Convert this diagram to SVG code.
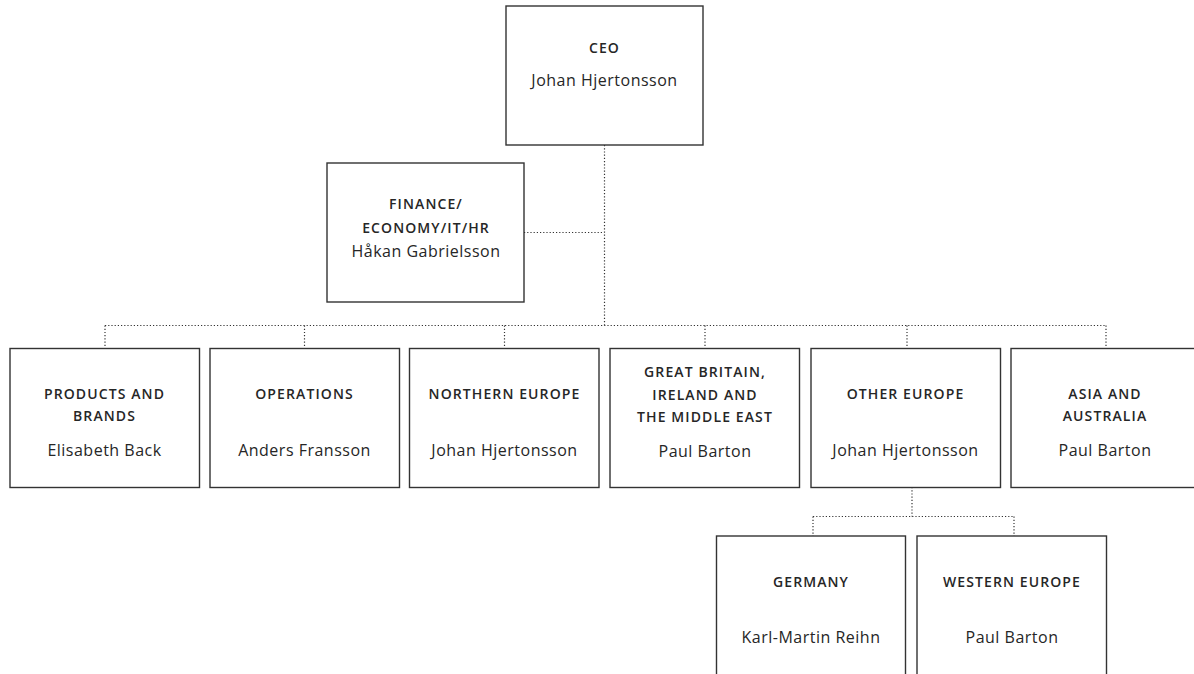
<svg xmlns="http://www.w3.org/2000/svg" width="1194" height="674" viewBox="0 0 1194 674">
<style>
.box{fill:#fff;stroke:#333;stroke-width:1.4}
.h{font-family:"Open Sans","Noto Sans",sans-serif;font-weight:600;font-size:14px;letter-spacing:1.1px;fill:#262626;text-anchor:middle}
.n{font-family:"Open Sans","Noto Sans",sans-serif;font-size:16px;letter-spacing:0.5px;fill:#262626;text-anchor:middle}
.c{fill:none;stroke:#333;stroke-width:1.2;stroke-dasharray:1.2 2}
</style>
<rect width="1194" height="674" fill="#fff"/>
<g id="connectors">
<path class="c" d="M604.5 145V325.5M524 232.5H604.5M105 325.5H1106M105 325.5V348M304.5 325.5V348M504.5 325.5V348M705 325.5V348M907 325.5V348M1106 325.5V348M912 487V516.5M813 516.5H1014M813 516.5V536M1014 516.5V536"/>
</g>
<g id="ceo"><rect class="box" x="506" y="6" width="197" height="139"/><text class="h" x="604.5" y="53">CEO</text><text class="n" x="604.5" y="86">Johan Hjertonsson</text></g>
<g id="finance"><rect class="box" x="327" y="163" width="197" height="139"/><text class="h" x="426" y="208.5">FINANCE/</text><text class="h" x="426" y="232.5">ECONOMY/IT/HR</text><text class="n" x="426" y="256.5">Håkan Gabrielsson</text></g>
<g id="products"><rect class="box" x="10" y="348.5" width="189.5" height="139"/><text class="h" x="104.5" y="398.5">PRODUCTS AND</text><text class="h" x="104.5" y="421">BRANDS</text><text class="n" x="104.5" y="456">Elisabeth Back</text></g>
<g id="operations"><rect class="box" x="210" y="348.5" width="189.5" height="139"/><text class="h" x="304.5" y="398.5">OPERATIONS</text><text class="n" x="304.5" y="456">Anders Fransson</text></g>
<g id="northern"><rect class="box" x="409.5" y="348.5" width="189.5" height="139"/><text class="h" x="504.5" y="398.5">NORTHERN EUROPE</text><text class="n" x="504.5" y="456">Johan Hjertonsson</text></g>
<g id="gb"><rect class="box" x="610" y="348.5" width="189.5" height="139"/><text class="h" x="705" y="377">GREAT BRITAIN,</text><text class="h" x="705" y="399.5">IRELAND AND</text><text class="h" x="705" y="421.5">THE MIDDLE EAST</text><text class="n" x="705" y="456.5">Paul Barton</text></g>
<g id="other"><rect class="box" x="811" y="348.5" width="189.5" height="139"/><text class="h" x="905.5" y="398.5">OTHER EUROPE</text><text class="n" x="905.5" y="456">Johan Hjertonsson</text></g>
<g id="asia"><rect class="box" x="1011" y="348.5" width="189.5" height="139"/><text class="h" x="1105" y="398.5">ASIA AND</text><text class="h" x="1105" y="421">AUSTRALIA</text><text class="n" x="1105" y="456">Paul Barton</text></g>
<g id="germany"><rect class="box" x="716.5" y="536" width="189" height="150"/><text class="h" x="811" y="587">GERMANY</text><text class="n" x="811" y="643">Karl-Martin Reihn</text></g>
<g id="western"><rect class="box" x="917" y="536" width="189.5" height="150"/><text class="h" x="1012" y="587">WESTERN EUROPE</text><text class="n" x="1012" y="643">Paul Barton</text></g>
</svg>
